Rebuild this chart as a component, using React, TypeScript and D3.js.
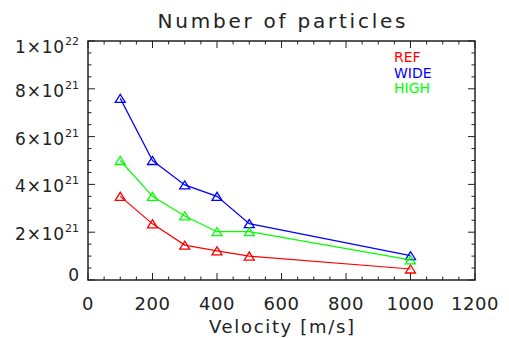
import React, { useEffect, useRef } from "react";
import * as d3 from "d3";

const velocities = [100, 200, 300, 400, 500, 1000];
const refValues = [3.5e21, 2.35e21, 1.46e21, 1.22e21, 1.0e21, 0.46e21];
const wideValues = [7.6e21, 5.0e21, 3.98e21, 3.5e21, 2.36e21, 1.02e21];
const highValues = [5.0e21, 3.5e21, 2.68e21, 2.02e21, 2.02e21, 0.84e21];
const seriesNames = ["REF", "WIDE", "HIGH"];
const seriesColors = ["#ff0000", "#0000ff", "#00ff00"];
const xTicks = [0, 200, 400, 600, 800, 1000, 1200];
const yTicks = [0, 2e21, 4e21, 6e21, 8e21, 1e22];
const yTickMantissa = ["0", "2", "4", "6", "8", "1"];
const yTickExponent = ["", "21", "21", "21", "21", "22"];

export default function App() {
	const ref = useRef<SVGSVGElement>(null);

	useEffect(() => {
		const svg = d3.select(ref.current);
		svg.selectAll("*").remove();

		const left = 88, right = 475, top = 41, bottom = 280;
		const font = "'DejaVu Sans', sans-serif";
		const ink = "#222";

		const x = d3.scaleLinear().domain([0, 1200]).range([left, right]);
		const y = d3.scaleLinear().domain([0, 1e22]).range([bottom, top]);

		// title
		svg.append("text")
			.attr("x", (left + right) / 2)
			.attr("y", 28)
			.attr("text-anchor", "middle")
			.attr("font-family", font)
			.attr("font-size", 20)
			.attr("textLength", 248)
			.attr("lengthAdjust", "spacing")
			.attr("fill", ink)
			.text("Number of particles");

		// box
		svg.append("rect")
			.attr("x", left)
			.attr("y", top)
			.attr("width", right - left)
			.attr("height", bottom - top)
			.attr("fill", "none")
			.attr("stroke", ink)
			.attr("stroke-width", 1.5);

		const ticks = svg.append("g").attr("stroke", ink).attr("stroke-width", 1);

		// x ticks, minor every 50
		d3.range(0, 1201, 50).forEach((v) => {
			const len = v % 200 === 0 ? 7 : 3.5;
			ticks.append("line").attr("x1", x(v)).attr("x2", x(v)).attr("y1", bottom).attr("y2", bottom - len);
			ticks.append("line").attr("x1", x(v)).attr("x2", x(v)).attr("y1", top).attr("y2", top + len);
		});
		// y ticks, minor every 5e20
		d3.range(0, 21).forEach((i) => {
			const v = i * 5e20;
			const len = i % 4 === 0 ? 7 : 3.5;
			ticks.append("line").attr("x1", left).attr("x2", left + len).attr("y1", y(v)).attr("y2", y(v));
			ticks.append("line").attr("x1", right).attr("x2", right - len).attr("y1", y(v)).attr("y2", y(v));
		});

		// x tick labels
		svg.append("g")
			.selectAll("text")
			.data(xTicks)
			.enter()
			.append("text")
			.attr("x", (d) => x(d))
			.attr("y", 310)
			.attr("text-anchor", "middle")
			.attr("font-family", font)
			.attr("font-size", 18)
			.attr("letter-spacing", 0.5)
			.attr("fill", ink)
			.text((d) => d);

		// y tick labels with exponent
		yTicks.forEach((v, i) => {
			let base = y(v) + 8;
			if (i === 0) base = y(v) + 1;
			if (i === yTicks.length - 1) base = y(v) + 12;
			const t = svg.append("text")
				.attr("x", 79)
				.attr("y", base)
				.attr("text-anchor", "end")
				.attr("font-family", font)
				.attr("font-size", 17)
				.attr("fill", ink);
			if (yTickExponent[i] === "") {
				t.text(yTickMantissa[i]);
			} else {
				t.append("tspan").attr("letter-spacing", 0.8).text(yTickMantissa[i] + "\u00d710");
				t.append("tspan").attr("dy", -8).attr("font-size", 11).text(yTickExponent[i]);
			}
		});

		// x axis title
		svg.append("text")
			.attr("x", (left + right) / 2)
			.attr("y", 333)
			.attr("text-anchor", "middle")
			.attr("font-family", font)
			.attr("font-size", 18)
			.attr("textLength", 145)
			.attr("lengthAdjust", "spacing")
			.attr("fill", ink)
			.text("Velocity [m/s]");

		// series
		const allSeries = [refValues, wideValues, highValues];
		const line = d3.line<number>()
			.x((d, i) => x(velocities[i]))
			.y((d) => y(d));
		const tri = "M-5,4L0,-4L5,4Z";

		allSeries.forEach((vals, s) => {
			svg.append("path")
				.attr("d", line(vals))
				.attr("fill", "none")
				.attr("stroke", seriesColors[s])
				.attr("stroke-width", 1.2);
			svg.append("g")
				.selectAll("path")
				.data(vals)
				.enter()
				.append("path")
				.attr("transform", (d, i) => "translate(" + x(velocities[i]) + "," + y(d) + ")")
				.attr("d", tri)
				.attr("fill", "none")
				.attr("stroke", seriesColors[s])
				.attr("stroke-width", 1.3);
		});

		// legend
		seriesNames.forEach((name, i) => {
			svg.append("text")
				.attr("x", 394)
				.attr("y", 62 + i * 15.5)
				.attr("font-family", font)
				.attr("font-size", 14)
				.attr("fill", seriesColors[i])
				.text(name);
		});
	}, []);

	return (
		<svg
			ref={ref}
			width={509}
			height={338}
			style={{ position: "absolute", left: 0, top: 0, background: "#fff" }}
		/>
	);
}
